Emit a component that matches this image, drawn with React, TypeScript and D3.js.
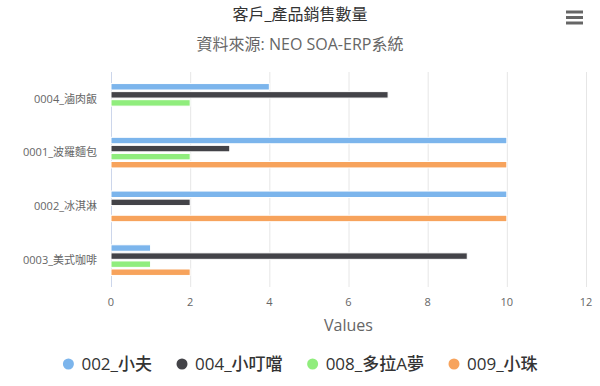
import React, { useEffect, useRef } from "react";
import * as d3 from "d3";

const categories = ["0004_滷肉飯", "0001_波羅麵包", "0002_冰淇淋", "0003_美式咖啡"];
const seriesNames = ["002_小夫", "004_小叮噹", "008_多拉A夢", "009_小珠"];
const seriesColors = ["#7cb5ec", "#434348", "#90ed7d", "#f7a35c"];
// one array per series, in category order
const xiaofu = [4, 10, 10, 1];
const dingdang = [7, 3, 2, 9];
const doraemon = [2, 2, 0, 1];
const xiaozhu = [0, 10, 10, 2];
const xTicks = [0, 2, 4, 6, 8, 10, 12];

const FONT = "'Open Sans', 'Noto Sans CJK TC', sans-serif";

const App = () => {
    const svgRef = useRef<SVGSVGElement>(null);
    const width = 600;
    const height = 386;

    useEffect(() => {
        const svg = d3.select(svgRef.current);
        svg.selectAll("*").remove();

        const margin = { top: 72, right: 14, bottom: 99, left: 111 };
        const innerW = width - margin.left - margin.right;
        const innerH = height - margin.top - margin.bottom;
        const allSeries = [xiaofu, dingdang, doraemon, xiaozhu];

        const x = d3.scaleLinear().domain([0, 12]).range([0, innerW]);
        const y0 = d3
            .scaleBand()
            .domain(categories)
            .range([0, innerH])
            .paddingInner(0.4)
            .paddingOuter(0.2);
        const y1 = d3
            .scaleBand()
            .domain(seriesNames)
            .range([0, y0.bandwidth()])
            .paddingInner(0.2)
            .paddingOuter(0.1);

        // title + subtitle
        svg.append("text")
            .attr("x", width / 2)
            .attr("y", 20)
            .attr("text-anchor", "middle")
            .style("font-family", FONT)
            .style("font-size", "16px")
            .style("font-weight", "400")
            .style("fill", "#333")
            .text("客戶_產品銷售數量");
        svg.append("text")
            .attr("x", width / 2)
            .attr("y", 50)
            .attr("text-anchor", "middle")
            .style("font-family", FONT)
            .style("font-size", "16px")
            .style("fill", "#666")
            .text("資料來源: NEO SOA-ERP系統");

        // hamburger menu icon
        const menu = svg.append("g").attr("transform", "translate(566,0)");
        [12, 17.5, 23].forEach((yy) => {
            menu.append("line")
                .attr("x1", 0)
                .attr("x2", 17)
                .attr("y1", yy)
                .attr("y2", yy)
                .style("stroke", "#666")
                .style("stroke-width", 3);
        });

        const g = svg
            .append("g")
            .attr("transform", `translate(${margin.left},${margin.top})`);

        // grid lines
        g.selectAll("line.grid")
            .data(xTicks.filter((t) => t !== 0))
            .enter()
            .append("line")
            .attr("class", "grid")
            .attr("x1", (d) => x(d) + 0.5)
            .attr("x2", (d) => x(d) + 0.5)
            .attr("y1", 0)
            .attr("y2", innerH)
            .style("stroke", "#e6e6e6")
            .style("stroke-width", 1);

        // category axis line
        g.append("line")
            .attr("x1", 0.5)
            .attr("x2", 0.5)
            .attr("y1", 0)
            .attr("y2", innerH)
            .style("stroke", "#ccd6eb");

        // category labels
        g.selectAll("text.cat")
            .data(categories)
            .enter()
            .append("text")
            .attr("class", "cat")
            .attr("x", -14)
            .attr("y", (d) => (y0(d) as number) + y0.bandwidth() / 2)
            .attr("dy", "0.35em")
            .attr("text-anchor", "end")
            .style("font-family", FONT)
            .style("font-size", "11px")
            .style("fill", "#666")
            .text((d) => d);

        // bars
        allSeries.forEach((values, si) => {
            g.selectAll(`rect.s${si}`)
                .data(values)
                .enter()
                .append("rect")
                .attr("class", `s${si}`)
                .attr("x", 0)
                .attr("y", (_, i) => (y0(categories[i]) as number) + (y1(seriesNames[si]) as number))
                .attr("width", (d) => x(d))
                .attr("height", y1.bandwidth())
                .attr("fill", seriesColors[si])
                .attr("stroke", "#fff")
                .attr("stroke-width", 1)
                .style("display", (d) => (d > 0 ? null : "none"));
        });

        // x tick labels
        g.selectAll("text.tick")
            .data(xTicks)
            .enter()
            .append("text")
            .attr("class", "tick")
            .attr("x", (d) => x(d))
            .attr("y", innerH + 19)
            .attr("text-anchor", "middle")
            .style("font-family", FONT)
            .style("font-size", "11px")
            .style("fill", "#666")
            .text((d) => d);

        // axis title
        g.append("text")
            .attr("x", innerW / 2)
            .attr("y", innerH + 44)
            .attr("text-anchor", "middle")
            .style("font-family", FONT)
            .style("font-size", "16px")
            .style("fill", "#666")
            .text("Values");

        // legend, centered
        const legend = svg.append("g");
        let cursor = 0;
        seriesNames.forEach((name, i) => {
            const item = legend.append("g").attr("transform", `translate(${cursor},0)`);
            item.append("circle")
                .attr("cx", 0)
                .attr("cy", 0)
                .attr("r", 5.5)
                .attr("fill", seriesColors[i]);
            const t = item
                .append("text")
                .attr("x", 13)
                .attr("dy", "0.35em")
                .style("font-family", FONT)
                .style("font-size", "17px")
                .style("font-weight", "500")
                .style("fill", "#333")
                .text(name);
            const w = (t.node() as SVGTextElement).getComputedTextLength();
            cursor += 13 + w + 30;
        });
        const legendW = cursor - 30 + 6;
        legend.attr("transform", `translate(${(width - legendW) / 2 + 6},364)`);
    }, []);

    return (
        <svg
            ref={svgRef}
            width={width}
            height={height}
            style={{ display: "block", position: "absolute", left: 0, top: 0, background: "#fff" }}
        ></svg>
    );
};

export default App;
